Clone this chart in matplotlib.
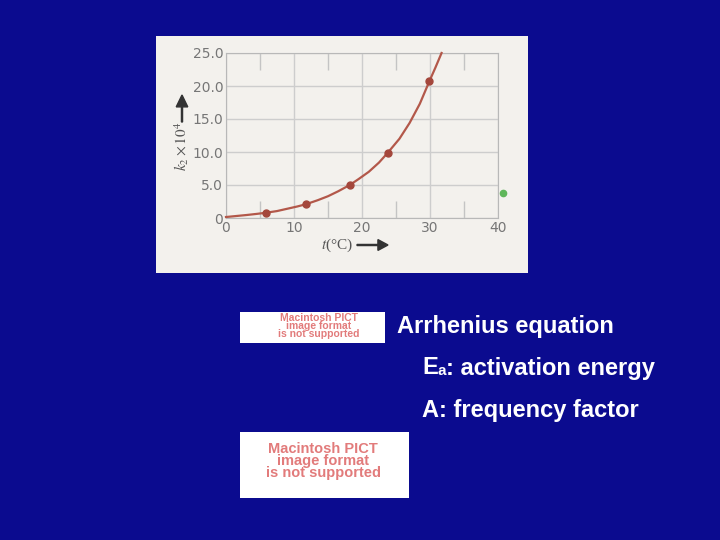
import matplotlib
matplotlib.use("Agg")
import matplotlib.pyplot as plt
from matplotlib.patches import Rectangle, FancyArrow

# Data
point_t = [5.9, 11.8, 18.2, 23.8, 29.9]
point_k = [0.8, 2.1, 5.0, 9.9, 20.7]
curve_t = [0, 1.5, 3, 4.5, 5.9, 7.5, 9, 10.5, 11.8, 13.5, 15, 16.5, 18.2,
           19.5, 21, 22.5, 23.8, 25.5, 27, 28.5, 29.9, 30.8, 31.7]
curve_k = [0.15, 0.3, 0.45, 0.62, 0.8, 1.05, 1.4, 1.75, 2.1, 2.7, 3.3, 4.05, 5.0,
           5.9, 7.0, 8.4, 9.9, 12.0, 14.4, 17.3, 20.7, 22.8, 25.0]
stray_t = [40.8]
stray_k = [3.8]
x_ticks = [0, 10, 20, 30, 40]
y_ticks = [0, 5, 10, 15, 20, 25]
y_labels = ["0", "5.0", "10.0", "15.0", "20.0", "25.0"]
bullets = ["Arrhenius equation", ": activation energy", "A: frequency factor"]
pict_text = "Macintosh PICT\nimage format\nis not supported"

W, H = 720, 540
BG = "#0b0b8f"
PANEL = "#f3f1ed"
PINK = "#e27b7b"

plt.rcParams["mathtext.fontset"] = "stix"


def fx(px):
    return px / W


def fy(py):
    return 1 - py / H


fig = plt.figure(figsize=(7.2, 5.4), dpi=100, facecolor=BG)

# photographed panel (behind the axes)
fig.patches.append(Rectangle((fx(156), fy(273)), fx(528) - fx(156), fy(36) - fy(273),
                             transform=fig.transFigure, facecolor=PANEL,
                             edgecolor="none", zorder=-5))

ax = fig.add_axes([fx(226), fy(218), fx(498) - fx(226), fy(53) - fy(218)])
ax.set_facecolor(PANEL)
ax.set_xlim(0, 40)
ax.set_ylim(0, 25)
ax.set_xticks(x_ticks)
ax.set_xticklabels([str(v) for v in x_ticks])
ax.set_yticks(y_ticks)
ax.set_yticklabels(y_labels)
ax.set_xticks([5, 15, 25, 35], minor=True)
ax.tick_params(which="major", length=0, labelsize=10, labelcolor="#767676", pad=2)
ax.tick_params(which="minor", axis="x", direction="in", length=12, width=1,
               color="#c4c4c4", top=True, bottom=True)
for s in ax.spines.values():
    s.set_color("#b8b8b8")
ax.grid(True, which="major", color="#cdcdcd", lw=1)
ax.set_axisbelow(True)

ax.plot(curve_t, curve_k, color="#b3584a", lw=1.6, clip_on=False, zorder=3)
ax.plot(point_t, point_k, "o", color="#a4473c", ms=5, zorder=4)
ax.plot(stray_t, stray_k, "o", color="#5fb65a", ms=4.5, clip_on=False)

# axis labels with arrows
fig.text(fx(182), fy(146), r"$k_2\times 10^4$", rotation=90, ha="center", va="center",
         fontsize=11, color="#555555")
fig.text(fx(337), fy(245), r"$t$(°C)", ha="center", va="center",
         fontsize=11, color="#555555", family="Liberation Serif")
fig.patches.append(FancyArrow(
    fx(182), fy(122), 0, fy(95) - fy(122), width=0.0015, head_width=0.016,
    head_length=0.022, length_includes_head=True, color="#333333",
    transform=fig.transFigure))
fig.patches.append(FancyArrow(
    fx(357), fy(245), fx(388) - fx(357), 0, width=0.002, head_width=0.02,
    head_length=0.014, length_includes_head=True, color="#333333",
    transform=fig.transFigure))

# slide text
tfont = dict(color="white", fontsize=17, fontweight="bold", family="Liberation Sans",
             va="center")
fig.text(fx(397), fy(326), bullets[0], **tfont)
e = fig.text(fx(422), fy(368), "E", **tfont)
fig.canvas.draw()
ex = e.get_window_extent()
sub = fig.text(ex.x1 / W, fy(371), "a", color="white", fontsize=11, fontweight="bold",
               family="Liberation Sans", va="center")
fig.canvas.draw()
sx = sub.get_window_extent()
fig.text(sx.x1 / W, fy(368), bullets[1], **tfont)
fig.text(fx(422), fy(410), bullets[2], **tfont)

# placeholder boxes
box1 = Rectangle((fx(240), fy(343)), fx(385) - fx(240), fy(312) - fy(343),
                 transform=fig.transFigure, facecolor="white", edgecolor="none")
fig.patches.append(box1)
t1 = fig.text(fx(319), fy(326), pict_text, ha="center", va="center", color=PINK,
              fontsize=7.5, fontweight="bold", family="Liberation Sans",
              linespacing=0.75, multialignment="center")
t1.set_clip_path(box1)

fig.patches.append(Rectangle((fx(240), fy(498)), fx(409) - fx(240), fy(432) - fy(498),
                             transform=fig.transFigure, facecolor="white", edgecolor="none"))
fig.text(fx(323), fy(461), pict_text, ha="center", va="center", color=PINK,
         fontsize=10.5, fontweight="bold", family="Liberation Sans",
         linespacing=0.85, multialignment="center")

fig.savefig("out.png", dpi=100, facecolor=BG)
